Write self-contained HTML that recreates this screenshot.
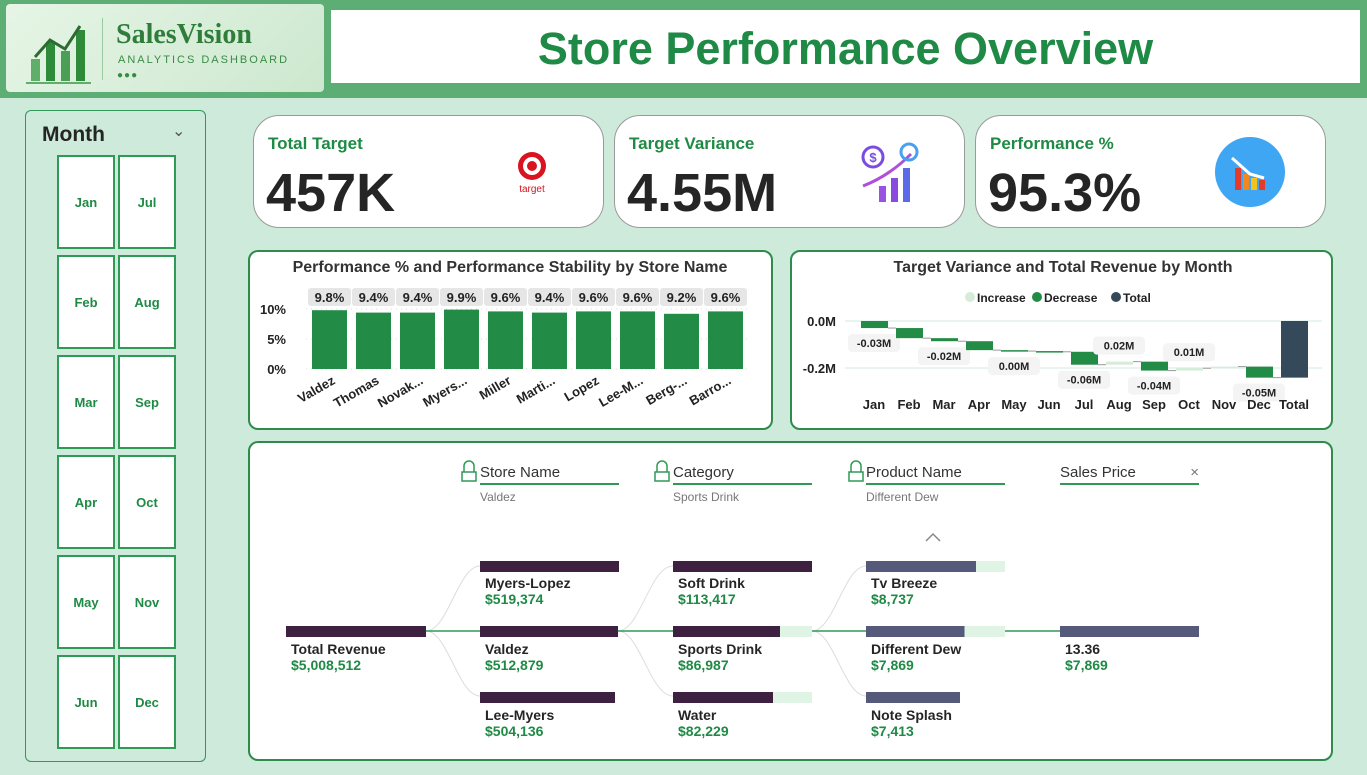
<!DOCTYPE html>
<html><head><meta charset="utf-8"><style>
*{box-sizing:border-box;margin:0;padding:0}
body{width:1367px;height:775px;background:#cdeadb;font-family:"Liberation Sans",sans-serif;position:relative;overflow:hidden}
.abs{position:absolute}
.card{position:absolute;background:#fff;border:2px solid #2e8b4a;border-radius:10px}
.kpi{position:absolute;background:#fff;border:1.5px solid #9a9a9a;border-radius:26px;width:351px;height:113px;top:115px}
.kpi .t{position:absolute;left:14px;top:18px;font-size:17px;font-weight:bold;color:#1f8a45}
.kpi .v{position:absolute;left:12px;top:46px;font-size:54px;font-weight:bold;color:#252525}
.tile{position:absolute;width:58px;height:94px;border:2px solid #2e9a55;background:#fff;font-size:13px;font-weight:bold;color:#1f8a45;display:flex;align-items:center;justify-content:center}
.hdr{position:absolute;font-size:15px;color:#333;border-bottom:2px solid #2e9a55;width:139px;padding-bottom:2px}
.sub{position:absolute;font-size:12px;color:#777}
.nb{position:absolute;height:11px;background:#3e2040}
.nl{position:absolute;font-size:14px;font-weight:bold;color:#252525;line-height:16px}
.nl span{display:block;color:#1f8a45}
.lock{position:absolute}
</style></head><body>
<div class="abs" style="left:0;top:0;width:1367px;height:98px;background:#5dae74"></div>
<div class="abs" style="left:6px;top:4px;width:318px;height:88px;background:linear-gradient(135deg,#e6f5e6,#cde8cf);border-radius:4px">
<svg width="90" height="80" style="position:absolute;left:15px;top:8px">
<rect x="10" y="47" width="9" height="22" fill="#5fae6a"/><rect x="25" y="30" width="9" height="39" fill="#2e8b3a"/><rect x="40" y="39" width="9" height="30" fill="#4a9e56"/><rect x="55" y="18" width="9" height="51" fill="#2e8b3a"/>
<polyline points="14,45 29,28 44,37 59,14" fill="none" stroke="#2e6b32" stroke-width="3"/><line x1="5" y1="71" x2="70" y2="71" stroke="#5fae6a" stroke-width="2"/></svg>
<div class="abs" style="left:96px;top:14px;width:1px;height:62px;background:#9bc9a0"></div>
<div class="abs" style="left:110px;top:15px;font-family:'Liberation Serif',serif;font-weight:bold;font-size:28px;color:#2e7d3a">SalesVision</div>
<div class="abs" style="left:112px;top:50px;font-size:11px;letter-spacing:2px;color:#3a8b45">ANALYTICS DASHBOARD</div>
<div class="abs" style="left:111px;top:66px;font-size:10px;color:#3a8b45;letter-spacing:1px">●●●</div>
</div>
<div class="abs" style="left:331px;top:10px;width:1029px;height:73px;background:#fff;text-align:center;font-size:45px;font-weight:bold;color:#1f8a45;line-height:78px">Store Performance Overview</div>

<div class="abs" style="left:25px;top:110px;width:181px;height:652px;border:1.5px solid #2e9a55;border-radius:6px;background:#cdeadb">
<div class="abs" style="left:16px;top:12px;font-size:21px;font-weight:bold;color:#252525">Month</div>
<div class="abs" style="left:146px;top:10px;font-size:16px;color:#555">&#8964;</div>
</div>
<div class="tile" style="left:57px;top:155px">Jan</div>
<div class="tile" style="left:118px;top:155px">Jul</div>
<div class="tile" style="left:57px;top:255px">Feb</div>
<div class="tile" style="left:118px;top:255px">Aug</div>
<div class="tile" style="left:57px;top:355px">Mar</div>
<div class="tile" style="left:118px;top:355px">Sep</div>
<div class="tile" style="left:57px;top:455px">Apr</div>
<div class="tile" style="left:118px;top:455px">Oct</div>
<div class="tile" style="left:57px;top:555px">May</div>
<div class="tile" style="left:118px;top:555px">Nov</div>
<div class="tile" style="left:57px;top:655px">Jun</div>
<div class="tile" style="left:118px;top:655px">Dec</div>

<div class="kpi" style="left:253px"><div class="t">Total Target</div><div class="v">457K</div>
<svg class="abs" style="left:258px;top:34px" width="40" height="46"><circle cx="20" cy="16" r="14" fill="#d9131f"/><circle cx="20" cy="16" r="9" fill="#fff"/><circle cx="20" cy="16" r="5" fill="#d9131f"/><text x="20" y="42" font-size="10" fill="#d9131f" text-anchor="middle" font-family="Liberation Sans">target</text></svg></div>
<div class="kpi" style="left:614px"><div class="t">Target Variance</div><div class="v">4.55M</div>
<svg class="abs" style="left:244px;top:24px" width="72" height="68"><circle cx="14" cy="17" r="10" fill="none" stroke="#7a4de0" stroke-width="3"/><text x="14" y="22" font-size="13" fill="#7a4de0" text-anchor="middle" font-weight="bold">$</text><rect x="20" y="46" width="7" height="16" fill="#9b52e0"/><rect x="32" y="38" width="7" height="24" fill="#8a4ae0"/><rect x="44" y="28" width="7" height="34" fill="#5a6ae8"/><path d="M4 46 Q30 36 52 14" fill="none" stroke="#b04fd8" stroke-width="3"/><circle cx="50" cy="12" r="8" fill="none" stroke="#4aa0f0" stroke-width="3"/></svg></div>
<div class="kpi" style="left:975px"><div class="t">Performance %</div><div class="v">95.3%</div>
<svg class="abs" style="left:238px;top:20px" width="72" height="72"><circle cx="36" cy="36" r="35" fill="#3ea6f2"/><rect x="21" y="32" width="6" height="22" fill="#e23b2c"/><rect x="29" y="38" width="6" height="16" fill="#f08a20"/><rect x="37" y="42" width="6" height="12" fill="#f5c21b"/><rect x="45" y="44" width="6" height="10" fill="#e23b2c"/><path d="M18 22 L36 38 L50 42" fill="none" stroke="#fff" stroke-width="3"/></svg></div>

<div class="card" style="left:248px;top:250px;width:525px;height:180px"></div>
<svg class="abs" style="left:248px;top:250px" width="525" height="180" id="bar"></svg>
<div class="card" style="left:790px;top:250px;width:543px;height:180px"></div>
<svg class="abs" style="left:790px;top:250px" width="543" height="180" id="wf"></svg>

<div class="card" style="left:248px;top:441px;width:1085px;height:320px"></div>
<svg class="abs" style="left:248px;top:441px" width="1085" height="320">
<g fill="none" stroke="#ddd" stroke-width="1"><path d="M178 190 C200 190,210 125,232 125"/><path d="M178 190 C200 190,210 255,232 255"/><path d="M370 190 C392 190,402 125,425 125"/><path d="M370 190 C392 190,402 255,425 255"/><path d="M564 190 C586 190,596 125,618 125"/><path d="M564 190 C586 190,596 255,618 255"/></g>
<g stroke="#2e9a55" stroke-width="1.5"><line x1="178" y1="190" x2="232" y2="190"/><line x1="370" y1="190" x2="425" y2="190"/><line x1="564" y1="190" x2="618" y2="190"/><line x1="757" y1="190" x2="812" y2="190"/></g>
<polyline points="678,100 685,93 692,100" fill="none" stroke="#888" stroke-width="1.5"/>
<g fill="none" stroke="#2e9a55" stroke-width="1.5">
<path d="M216 31 v-6 a5 5 0 0 1 10 0 v6"/><rect x="214" y="31" width="14" height="9"/>
<path d="M409 31 v-6 a5 5 0 0 1 10 0 v6"/><rect x="407" y="31" width="14" height="9"/>
<path d="M603 31 v-6 a5 5 0 0 1 10 0 v6"/><rect x="601" y="31" width="14" height="9"/>
</g>
</svg>
<div class="hdr" style="left:480px;top:464px">Store Name</div>
<div class="sub" style="left:480px;top:490px">Valdez</div>
<div class="hdr" style="left:673px;top:464px">Category</div>
<div class="sub" style="left:673px;top:490px">Sports Drink</div>
<div class="hdr" style="left:866px;top:464px">Product Name</div>
<div class="sub" style="left:866px;top:490px">Different Dew</div>
<div class="hdr" style="left:1060px;top:464px">Sales Price<span style="position:absolute;right:0;color:#777">×</span></div>

<div class="nb" style="left:286px;top:626px;width:140px"></div><div class="nl" style="left:291px;top:641px">Total Revenue<span>$5,008,512</span></div>
<div class="nb" style="left:480px;top:561px;width:139px"></div><div class="nl" style="left:485px;top:575px">Myers-Lopez<span>$519,374</span></div>
<div class="nb" style="left:480px;top:626px;width:138px"></div><div class="nl" style="left:485px;top:641px">Valdez<span>$512,879</span></div>
<div class="nb" style="left:480px;top:692px;width:135px"></div><div class="nl" style="left:485px;top:707px">Lee-Myers<span>$504,136</span></div>
<div class="nb" style="left:673px;top:561px;width:139px"></div><div class="nl" style="left:678px;top:575px">Soft Drink<span>$113,417</span></div>
<div class="nb" style="left:673px;top:626px;width:139px;background:linear-gradient(90deg,#3e2040 77%,#e0f4e6 77%)"></div><div class="nl" style="left:678px;top:641px">Sports Drink<span>$86,987</span></div>
<div class="nb" style="left:673px;top:692px;width:139px;background:linear-gradient(90deg,#3e2040 72%,#e0f4e6 72%)"></div><div class="nl" style="left:678px;top:707px">Water<span>$82,229</span></div>
<div class="nb" style="left:866px;top:561px;width:139px;background:linear-gradient(90deg,#565a7a 79%,#e0f4e6 79%)"></div><div class="nl" style="left:871px;top:575px">Tv Breeze<span>$8,737</span></div>
<div class="nb" style="left:866px;top:626px;width:139px;background:linear-gradient(90deg,#565a7a 71%,#e0f4e6 71%)"></div><div class="nl" style="left:871px;top:641px">Different Dew<span>$7,869</span></div>
<div class="nb" style="left:866px;top:692px;width:94px;background:#565a7a"></div><div class="nl" style="left:871px;top:707px">Note Splash<span>$7,413</span></div>
<div class="nb" style="left:1060px;top:626px;width:139px;background:#565a7a"></div><div class="nl" style="left:1065px;top:641px">13.36<span>$7,869</span></div>

<script>
const stores=["Valdez","Thomas","Novak...","Myers...","Miller","Marti...","Lopez","Lee-M...","Berg-...","Barro..."];
const perf=[9.8,9.4,9.4,9.9,9.6,9.4,9.6,9.6,9.2,9.6];
const perfTicks=[0,5,10];
const months=["Jan","Feb","Mar","Apr","May","Jun","Jul","Aug","Sep","Oct","Nov","Dec"];
const variance=[-0.03,-0.043,-0.013,-0.038,-0.004,-0.003,-0.055,0.013,-0.038,0.01,0.007,-0.047];
const varianceLabels=["-0.03M","","-0.02M","","0.00M","","-0.06M","0.02M","-0.04M","0.01M","","-0.05M"];
const wfTicks=[0,-0.2];
const NS="http://www.w3.org/2000/svg";
function mk(p,t,a,txt){const e=document.createElementNS(NS,t);for(const k in a)e.setAttribute(k,a[k]);if(txt!==undefined)e.textContent=txt;p.appendChild(e);return e;}
// bar chart
const b=document.getElementById('bar');
mk(b,'text',{x:262,y:22,'font-size':16,'font-weight':'bold',fill:'#333','text-anchor':'middle'},"Performance % and Performance Stability by Store Name");
const y0=119,ys=v=>y0-v*6,bx=i=>64+i*44;
perfTicks.forEach(t=>{const tl=mk(b,'text',{x:38,y:ys(t)+5,'font-size':13,'font-weight':'bold',fill:'#222','text-anchor':'end'},t+"%");


mk(b,'line',{x1:58,x2:500,y1:ys(t),y2:ys(t),stroke:'#ddd','stroke-dasharray':'1,4'});});
stores.forEach((s,i)=>{
const r=mk(b,'rect',{x:bx(i),y:ys(perf[i]),width:35,height:perf[i]*6,fill:'#228b45'});


mk(b,'rect',{x:bx(i)-4,y:38,width:43,height:18,rx:3,fill:'#e6e6e6'});
mk(b,'text',{x:bx(i)+17.5,y:52,'font-size':13,'font-weight':'bold',fill:'#222','text-anchor':'middle'},perf[i].toFixed(1)+"%");
const l=mk(b,'text',{x:bx(i)+24,y:133,'font-size':13,'font-weight':'bold',fill:'#222','text-anchor':'end',transform:`rotate(-30 ${bx(i)+24} 133)`},s);


});
// waterfall
const w=document.getElementById('wf');
mk(w,'text',{x:273,y:22,'font-size':16,'font-weight':'bold',fill:'#333','text-anchor':'middle'},"Target Variance and Total Revenue by Month");
[["Increase","#d5ecd9",180],["Decrease","#228b45",247],["Total","#344a5a",326]].forEach(([n,c,x])=>{mk(w,'circle',{cx:x,cy:47,r:5,fill:c});
const lg=mk(w,'text',{x:x+7,y:52,'font-size':12,'font-weight':'bold',fill:'#222'},n);

});
const wy=v=>71-v*235, wx=i=>84+i*35;
wfTicks.forEach(t=>{mk(w,'line',{x1:55,x2:532,y1:wy(t),y2:wy(t),stroke:'#cfeadf'});
mk(w,'text',{x:46,y:wy(t)+5,'font-size':13,'font-weight':'bold',fill:'#222','text-anchor':'end'},t.toFixed(1)+"M");});
let cum=0;
months.forEach((m,i)=>{const s=cum,e=cum+variance[i];cum=e;
const r=mk(w,'rect',{x:wx(i)-13,y:Math.min(wy(s),wy(e)),width:27,height:Math.max(1.5,Math.abs(wy(s)-wy(e))),fill:variance[i]>=0?'#d5ecd9':'#228b45'});


mk(w,'line',{x1:wx(i)+14,x2:wx(i)+22,y1:wy(e),y2:wy(e),stroke:'#999'});
if(varianceLabels[i]){const ly=variance[i]>=0?Math.min(wy(s),wy(e))-12:Math.max(wy(s),wy(e))+19;
mk(w,'rect',{x:wx(i)-26,y:ly-13,width:52,height:18,rx:4,fill:'#f4f4f4'});
mk(w,'text',{x:wx(i),y:ly,'font-size':11,'font-weight':'bold',fill:'#222','text-anchor':'middle'},varianceLabels[i]);}
const l=mk(w,'text',{x:wx(i),y:159,'font-size':13,'font-weight':'bold',fill:'#222','text-anchor':'middle'},m);


});
const ti=months.length;
const tr=mk(w,'rect',{x:wx(ti)-13,y:wy(0),width:27,height:wy(cum)-wy(0),fill:'#344a5a'});


mk(w,'text',{x:wx(ti),y:159,'font-size':13,'font-weight':'bold',fill:'#222','text-anchor':'middle'},"Total");
</script>
</body></html>
